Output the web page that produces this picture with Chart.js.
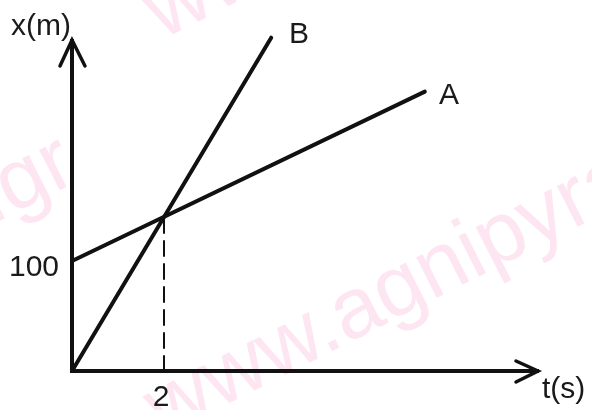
<!DOCTYPE html>
<html>
<head>
<meta charset="utf-8">
<script src="https://cdn.jsdelivr.net/npm/chart.js@4"></script>
<style>
  html, body { margin: 0; padding: 0; background: #fff; }
  #wrap { width: 592px; height: 410px; }
</style>
</head>
<body>
<div id="wrap"><canvas id="myChart"></canvas></div>
<script>
// values
var tA = [0, 7.67];     // line A, t (s)
var xA = [100, 254];    // line A, x (m)
var tB = [0, 4.33];     // line B
var xB = [0, 303];
var tMeet = 2;          // where they cross
var xMeet = 140.5;
var yTicks = [100];
var xTicks = [2];

var font = '30px "Liberation Sans", Arial, sans-serif';
var ink = '#111';

function pts(ts, xs) {
    return ts.map(function (t, i) { return { x: t, y: xs[i] }; });
}

// faint pink watermark behind everything
var watermark = {
    id: 'watermark',
    beforeDraw: function (chart) {
        var c = chart.ctx;
        var txt = 'www.agnipyramid.gr';
        c.save();
        c.fillStyle = '#fde6f2';
        c.font = '86px "Liberation Sans", Arial, sans-serif';
        c.textBaseline = 'alphabetic';
        var a = -0.47;
        c.translate(163, 437); c.rotate(a);
        c.textAlign = 'left';
        c.fillText(txt, 0, 0);
        c.setTransform(1, 0, 0, 1, 0, 0);
        c.translate(80, 180); c.rotate(a);
        c.textAlign = 'right';
        c.fillText(txt, 0, 0);
        c.setTransform(1, 0, 0, 1, 0, 0);
        c.translate(162, 40); c.rotate(a);
        c.textAlign = 'left';
        c.fillText(txt, 0, 0);
        c.restore();
    }
};

// axes with arrow heads, tick labels and text
var axes = {
    id: 'axes',
    afterDatasetsDraw: function (chart) {
        var c = chart.ctx;
        var sx = chart.scales.x, sy = chart.scales.y;
        var ox = sx.getPixelForValue(0), oy = sy.getPixelForValue(0);
        c.save();
        c.strokeStyle = ink;
        c.lineWidth = 4;
        c.lineCap = 'square';
        c.beginPath();
        c.moveTo(ox, oy); c.lineTo(ox, 41);
        c.moveTo(ox, oy); c.lineTo(537, oy);
        c.stroke();
        c.lineWidth = 3.5;
        c.lineCap = 'round';
        c.lineJoin = 'miter';
        c.beginPath();
        c.moveTo(ox - 12, 66); c.lineTo(ox, 40); c.lineTo(ox + 13, 66);
        c.moveTo(516, oy - 10); c.lineTo(538, oy); c.lineTo(516, oy + 11);
        c.stroke();

        c.fillStyle = '#1a1a1a';
        c.font = font;
        c.textBaseline = 'middle';
        c.textAlign = 'right';
        yTicks.forEach(function (v) { c.fillText(String(v), ox - 13, sy.getPixelForValue(v) + 7); });
        c.textAlign = 'center';
        xTicks.forEach(function (v) { c.fillText(String(v), sx.getPixelForValue(v) - 3, 398); });

        c.textAlign = 'left';
        c.fillText('x(m)', 11, 27);
        c.fillText('t(s)', 542, 390);
        c.fillText('A', 439, 96);
        c.fillText('B', 289, 35);
        c.restore();
    }
};

var ctx = document.getElementById('myChart').getContext('2d');
var myChart = new Chart(ctx, {
    type: 'line',
    data: {
        datasets: [{
            label: 'A',
            data: pts(tA, xA),
            borderColor: ink,
            borderWidth: 4,
            pointRadius: 0
        }, {
            label: 'B',
            data: pts(tB, xB),
            borderColor: ink,
            borderWidth: 4,
            pointRadius: 0
        }, {
            label: 'drop',
            data: [{ x: tMeet, y: 0 }, { x: tMeet, y: xMeet }],
            borderColor: ink,
            borderWidth: 2,
            borderDash: [15, 8],
            pointRadius: 0
        }]
    },
    options: {
        responsive: true,
        maintainAspectRatio: false,
        animation: false,
        layout: { padding: { left: 72, right: 54, top: 30, bottom: 39 } },
        plugins: { legend: { display: false }, tooltip: { enabled: false } },
        elements: { line: { borderCapStyle: 'round', tension: 0 } },
        datasets: { line: { clip: false } },
        scales: {
            x: { type: 'linear', min: 0, max: 10.13, display: false },
            y: { type: 'linear', min: 0, max: 310, display: false }
        }
    },
    plugins: [watermark, axes]
});
</script>
</body>
</html>
